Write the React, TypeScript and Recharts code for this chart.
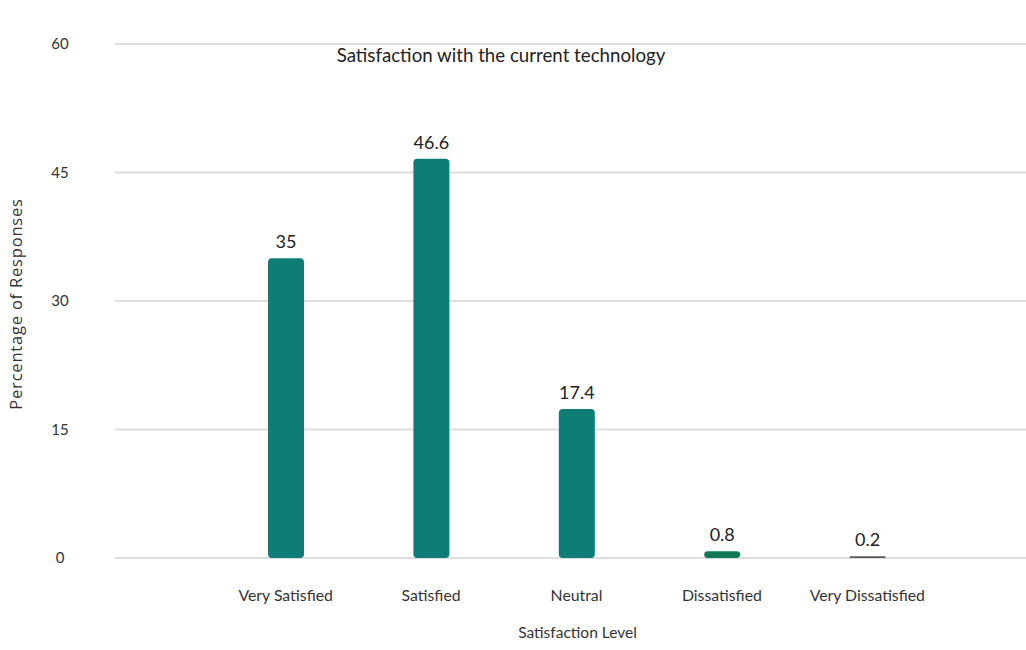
import React from "react";
import { BarChart, Bar, XAxis, YAxis, CartesianGrid, LabelList, Cell } from "recharts";

const categories = ["Very Satisfied", "Satisfied", "Neutral", "Dissatisfied", "Very Dissatisfied"];
const percentages = [35, 46.6, 17.4, 0.8, 0.2];
const barColors = ["#0E7D76", "#0E7D76", "#0E7D76", "#117A55", "#5A5A5A"];
const yTicks = [0, 15, 30, 45, 60];

const data = categories.map((c, i) => ({ name: c, value: percentages[i] }));

const FONT = "Lato, 'Open Sans', sans-serif";

const YTick = (props: any) => {
  const { y, payload } = props;
  return (
    <text x={60} y={y} dy={5} textAnchor="middle" fontSize={15} fill="#333" fontFamily={FONT}>
      {payload.value}
    </text>
  );
};

export default function App() {
  return (
    <div style={{ position: "absolute", left: 0, top: 0, width: 1026, height: 650, background: "#fff", fontFamily: FONT }}>
      <div
        style={{
          position: "absolute",
          left: 0,
          width: 1002,
          top: 44,
          textAlign: "center",
          fontSize: 18.7,
          color: "#222",
          fontFamily: FONT,
          zIndex: 2,
        }}
      >
        Satisfaction with the current technology
      </div>
      <BarChart
        width={1026}
        height={650}
        data={data}
        margin={{ top: 44, right: 0, bottom: 12, left: 0 }}
        barSize={36}
      >
        <CartesianGrid horizontal vertical={false} stroke="#dedede" strokeWidth={2} />
        <XAxis
          dataKey="name"
          axisLine={false}
          tickLine={false}
          height={80}
          tickMargin={26}
          padding={{ left: 98, right: 86 }}
          tick={{ fontSize: 15.8, fill: "#333", fontFamily: FONT }}
          label={{ value: "Satisfaction Level", position: "insideBottom", offset: 0, dx: 7, fontSize: 15.5, fill: "#333", fontFamily: FONT }}
        />
        <YAxis
          width={115}
          domain={[0, 60]}
          ticks={yTicks}
          axisLine={false}
          tickLine={false}
          tick={<YTick />}
          label={{ value: "Percentage of Responses", angle: -90, position: "insideLeft", offset: 16, dy: 3, fontSize: 16.5, fill: "#333", fontFamily: "'Open Sans', sans-serif", style: { textAnchor: "middle", letterSpacing: 0.8 } }}
        />
        <Bar dataKey="value" isAnimationActive={false} radius={[4, 4, 4, 4]}>
          {data.map((d, i) => (
            <Cell key={d.name} fill={barColors[i]} />
          ))}
          <LabelList dataKey="value" position="top" offset={10} fontSize={18} fill="#222" fontFamily={FONT} />
        </Bar>
      </BarChart>
    </div>
  );
}
